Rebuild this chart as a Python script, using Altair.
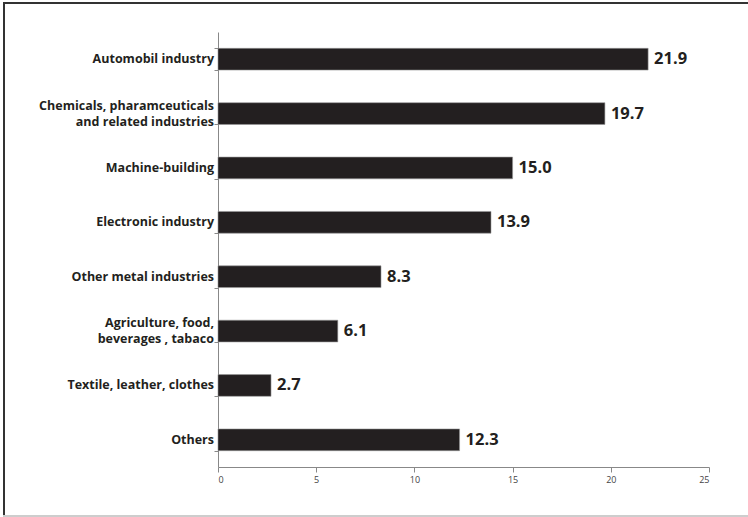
import altair as alt
import pandas as pd

categories = [
    "Automobil industry",
    "Chemicals, pharamceuticals|and related industries",
    "Machine-building",
    "Electronic industry",
    "Other metal industries",
    "Agriculture, food,|beverages , tabaco",
    "Textile, leather, clothes",
    "Others",
]
values = [21.9, 19.7, 15.0, 13.9, 8.3, 6.1, 2.7, 12.3]
x_ticks = [0, 5, 10, 15, 20, 25]

df = pd.DataFrame({"cat": categories, "val": values})
df["lab"] = df["val"].map(lambda v: f"{v:.1f}")
df["multi"] = df["cat"].str.contains("|", regex=False)

W, H = 491, 435
PL, PT, PR, PB = 218, 32, 39, 50
FONT = "Open Sans"

y_enc = alt.Y(
    "cat:N",
    sort=categories,
    title=None,
    scale=alt.Scale(paddingInner=0.6, paddingOuter=0.3),
    axis=alt.Axis(
        labels=False,
        tickBand="extent",
        tickSize=4,
        tickColor="#888888",
        domainColor="#888888",
    ),
)
x_enc = alt.X(
    "val:Q",
    title=None,
    scale=alt.Scale(domain=[0, 25], nice=False),
    axis=alt.Axis(
        values=x_ticks,
        labelFont=FONT,
        labelFontSize=9,
        labelColor="#444444",
        tickSize=5,
        tickColor="#888888",
        domainColor="#888888",
        grid=False,
        labelPadding=3,
    ),
)

base = alt.Chart(df)

bars = base.mark_bar(
    color="#231f20", stroke="#999999", strokeWidth=0.6
).encode(x=x_enc, y=y_enc)

texts = base.mark_text(
    align="left", baseline="middle", dx=6, font=FONT, fontWeight="bold",
    fontSize=16.5, color="#231f20"
).encode(x="val:Q", y=alt.Y("cat:N", sort=categories), text="lab:N")

label_style = dict(
    align="right", baseline="middle", font=FONT, fontWeight="bold",
    fontSize=12.5, color="#231f20", lineBreak="|", lineHeight=16,
)
labels_single = base.transform_filter("!datum.multi").mark_text(**label_style).encode(
    x=alt.value(-4), y=alt.Y("cat:N", sort=categories), text="cat:N"
)
labels_multi = base.transform_filter("datum.multi").mark_text(dy=-8, **label_style).encode(
    x=alt.value(-4), y=alt.Y("cat:N", sort=categories), text="cat:N"
)

frame_top = base.mark_rule(color="#333333", strokeWidth=2).encode(
    x=alt.value(-PL + 3), x2=alt.value(W + PR), y=alt.value(-PT + 3)
)
frame_left = base.mark_rule(color="#333333", strokeWidth=2).encode(
    x=alt.value(-PL + 4), y=alt.value(-PT + 3), y2=alt.value(H + PB - 1)
)
frame_bottom = base.mark_rule(color="#cccccc", strokeWidth=1.5).encode(
    x=alt.value(-PL + 3), x2=alt.value(W + PR), y=alt.value(H + PB - 1)
)

chart = (
    alt.layer(bars, texts, labels_single, labels_multi, frame_top, frame_left, frame_bottom)
    .properties(
        width=W,
        height=H,
        autosize=alt.AutoSizeParams(type="none"),
        padding={"left": PL, "top": PT, "right": PR, "bottom": PB},
        background="white",
    )
    .configure_view(stroke=None)
)

chart.save("out.html", embed_options={"renderer": "svg", "actions": False})
